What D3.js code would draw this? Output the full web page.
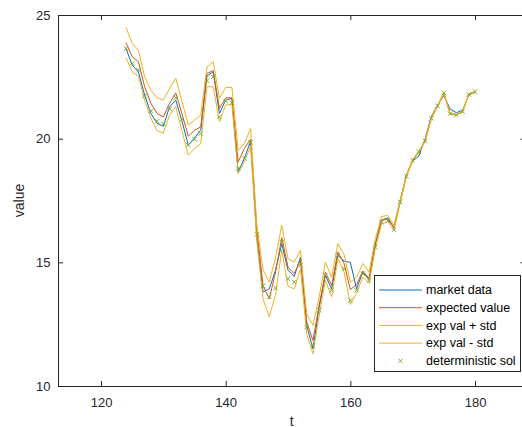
<!DOCTYPE html>
<html lang="en">
<head>
    <meta charset="UTF-8">
    <title>market data vs expected value</title>
    <script src="https://d3js.org/d3.v7.min.js"></script>
    <style>
        body { margin: 0; background: #fff; font-family: "Liberation Sans", Arial, Helvetica, sans-serif; }
        svg { display: block; }
    </style>
</head>
<body>
<script>
    // chart values
    const days = [124, 125, 126, 127, 128, 129, 130, 131, 132, 133, 134, 135, 136, 137, 138, 139, 140, 141, 142,
        143, 144, 145, 146, 147, 148, 149, 150, 151, 152, 153, 154, 155, 156, 157, 158, 159, 160, 161, 162,
        163, 164, 165, 166, 167, 168, 169, 170, 171, 172, 173, 174, 175, 176, 177, 178, 179, 180];

    const marketData = [23.65, 22.98, 22.7, 21.76, 21.02, 20.62, 20.5, 21.29, 21.56, 20.7, 19.74, 20.03, 20.34,
        22.54, 22.7, 21.02, 21.56, 21.63, 18.66, 19.2, 19.9, 16.0, 13.8, 13.93, 14.68, 15.76, 14.68, 14.43,
        15.21, 12.45, 11.5, 13.19, 14.47, 13.93, 15.28, 15.05, 15.0, 13.93, 14.6, 14.3, 15.7, 16.7, 16.8,
        16.4, 17.5, 18.55, 19.1, 19.3, 20.0, 20.9, 21.35, 21.75, 21.2, 21.05, 21.15, 21.75, 21.9];

    const expectedValue = [23.89, 23.31, 23.11, 22.1, 21.43, 21.02, 20.88, 21.43, 21.85, 21.0, 20.1, 20.34, 20.48,
        22.64, 22.75, 21.22, 21.65, 21.65, 19.06, 19.6, 19.98, 16.3, 14.05, 13.53, 14.6, 16.0, 14.81, 14.54,
        15.08, 12.58, 11.84, 13.26, 14.6, 14.07, 15.42, 14.95, 13.9, 14.1, 14.65, 14.35, 15.75, 16.7, 16.75,
        16.4, 17.45, 18.5, 19.13, 19.47, 19.92, 20.83, 21.33, 21.85, 21.02, 20.96, 21.1, 21.8, 21.9];

    const expPlusStd = [24.5, 23.85, 23.58, 22.5, 21.96, 21.65, 21.56, 22.03, 22.44, 21.5, 20.55, 20.75, 20.95,
        22.9, 23.11, 21.63, 22.07, 22.07, 19.53, 19.8, 20.41, 16.5, 14.7, 14.2, 15.2, 16.5, 15.15, 15.01,
        15.49, 12.92, 12.45, 13.6, 15.01, 14.4, 15.76, 15.3, 14.2, 14.4, 14.95, 14.6, 15.95, 16.85, 16.9,
        16.5, 17.5, 18.53, 19.16, 19.5, 19.94, 20.85, 21.35, 21.87, 21.03, 20.97, 21.11, 21.81, 21.91];

    const expMinusStd = [23.29, 22.7, 22.53, 21.56, 20.82, 20.32, 20.23, 20.95, 21.29, 20.3, 19.33, 19.6, 19.8,
        22.1, 22.1, 20.68, 21.36, 21.38, 18.59, 19.06, 19.7, 15.85, 13.5, 12.8, 13.7, 15.5, 14.03, 13.93,
        14.74, 12.11, 11.3, 12.85, 14.27, 13.6, 15.15, 14.6, 13.3, 13.75, 14.4, 14.15, 15.55, 16.55, 16.65,
        16.3, 17.4, 18.47, 19.1, 19.44, 19.88, 20.8, 21.3, 21.82, 21.0, 20.94, 21.08, 21.78, 21.89];

    const deterministicSol = [23.65, 23.04, 22.77, 21.73, 21.13, 20.7, 20.6, 21.2, 21.65, 20.78, 19.74, 19.98, 20.21,
        22.35, 22.5, 20.88, 21.52, 21.45, 18.79, 19.2, 19.85, 16.13, 14.05, 13.6, 13.96, 15.82, 14.34, 14.2,
        14.88, 12.38, 11.64, 13.06, 14.47, 13.87, 15.28, 14.74, 13.46, 13.87, 14.54, 14.27, 15.62, 16.63, 16.68,
        16.32, 17.44, 18.48, 19.13, 19.47, 19.9, 20.82, 21.33, 21.85, 21.01, 20.95, 21.09, 21.79, 21.9];

    const xTicks = [120, 140, 160, 180];
    const yTicks = [10, 15, 20, 25];
    const xLimits = [113.1, 188.1];
    const yLimits = [10, 25];

    const seriesNames = ["market data", "expected value", "exp val + std", "exp val - std", "deterministic sol"];
    const seriesColors = ["#0072BD", "#D95319", "#EDB120", "#EDB120", "#77AC30"];

    const axisColor = "#262626";
    const width = 522, height = 427;
    const plot = {left: 58, right: 525.5, top: 15, bottom: 386};

    const svg = d3.select("body").append("svg")
        .attr("width", width)
        .attr("height", height);

    const x = d3.scaleLinear().domain(xLimits).range([plot.left, plot.right]);
    const y = d3.scaleLinear().domain(yLimits).range([plot.bottom, plot.top]);

    // axes box, ticks pointing inward like matlab
    const styleAxis = g => {
        g.select(".domain").attr("stroke", axisColor);
        g.selectAll(".tick line").attr("stroke", axisColor);
        g.selectAll(".tick text").attr("fill", axisColor).style("font-size", "13px")
            .style("font-family", "'Liberation Sans', Arial, sans-serif");
    };

    svg.append("g")
        .attr("transform", `translate(0,${plot.bottom})`)
        .call(d3.axisBottom(x).tickValues(xTicks).tickSizeInner(-5).tickSizeOuter(0).tickPadding(11.5))
        .call(styleAxis);

    svg.append("g")
        .attr("transform", `translate(0,${plot.top})`)
        .call(d3.axisTop(x).tickValues(xTicks).tickSizeInner(-5).tickSizeOuter(0).tickFormat(""))
        .call(styleAxis);

    svg.append("g")
        .attr("transform", `translate(${plot.left},0)`)
        .call(d3.axisLeft(y).tickValues(yTicks).tickSizeInner(-5).tickSizeOuter(0).tickPadding(7.5))
        .call(styleAxis);

    svg.append("g")
        .attr("transform", `translate(${plot.right},0)`)
        .call(d3.axisRight(y).tickValues(yTicks).tickSizeInner(-5).tickSizeOuter(0).tickFormat(""))
        .call(styleAxis);

    // axis labels
    svg.append("text")
        .attr("x", (plot.left + plot.right) / 2)
        .attr("y", 425.5)
        .attr("text-anchor", "middle")
        .attr("fill", axisColor)
        .style("font-size", "14px")
        .text("t");

    svg.append("text")
        .attr("transform", `translate(24,${(plot.top + plot.bottom) / 2}) rotate(-90)`)
        .attr("text-anchor", "middle")
        .attr("fill", axisColor)
        .style("font-size", "14px")
        .text("value");

    // lines
    const lineSeries = [marketData, expectedValue, expPlusStd, expMinusStd];
    const line = d3.line()
        .x((d, i) => x(days[i]))
        .y(d => y(d));

    lineSeries.forEach((values, k) => {
        svg.append("path")
            .datum(values)
            .attr("fill", "none")
            .attr("stroke", seriesColors[k])
            .attr("stroke-width", 1)
            .attr("stroke-linejoin", "round")
            .attr("d", line);
    });

    // deterministic solution as x markers
    const markerPath = (cx, cy, s) =>
        `M${cx - s},${cy - s}L${cx + s},${cy + s}M${cx - s},${cy + s}L${cx + s},${cy - s}`;

    svg.append("g")
        .selectAll("path")
        .data(deterministicSol)
        .join("path")
        .attr("d", (d, i) => markerPath(x(days[i]), y(d), 2.2))
        .attr("stroke", seriesColors[4])
        .attr("stroke-width", 1)
        .attr("fill", "none");

    // legend
    const legend = svg.append("g");
    legend.append("rect")
        .attr("x", 374.5)
        .attr("y", 275.5)
        .attr("width", 146)
        .attr("height", 96)
        .attr("fill", "#fff")
        .attr("stroke", axisColor)
        .attr("stroke-width", 1);

    seriesNames.forEach((name, i) => {
        const ly = 290 + i * 17.7;
        if (i < 4) {
            legend.append("line")
                .attr("x1", 379).attr("x2", 422)
                .attr("y1", ly).attr("y2", ly)
                .attr("stroke", seriesColors[i])
                .attr("stroke-width", 1);
        } else {
            legend.append("path")
                .attr("d", markerPath(400.5, ly, 2))
                .attr("stroke", seriesColors[i])
                .attr("fill", "none");
        }
        legend.append("text")
            .attr("x", 426)
            .attr("y", ly)
            .attr("dy", "0.35em")
            .attr("fill", "#000")
            .style("font-size", "12.5px")
            .text(name);
    });
</script>
</body>
</html>
